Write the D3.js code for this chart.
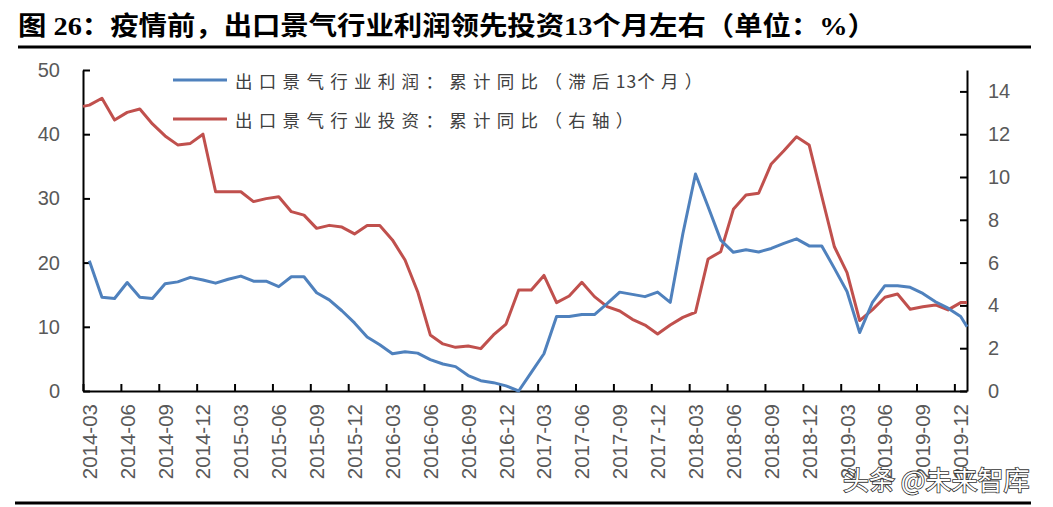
<!DOCTYPE html>
<html>
<head>
<meta charset="utf-8">
<script src="https://cdn.jsdelivr.net/npm/d3@7"></script>
<style>
  html, body { margin: 0; padding: 0; background: #fff; }
  svg { display: block; }
</style>
</head>
<body>
<svg id="chart" width="1053" height="507"></svg>
<script>
// ---------------- DATA ----------------
const titleText = "图 26：疫情前，出口景气行业利润领先投资13个月左右（单位：%）";
const legendProfit = "出口景气行业利润：累计同比（滞后13个月）";
const legendInvest = "出口景气行业投资：累计同比（右轴）";
const watermark = "头条 @未来智库";

// monthly categories 2014-03 .. 2019-12 (70 months); labelled every 3 months
const tickLabels = ["2014-03","2014-06","2014-09","2014-12","2015-03","2015-06","2015-09","2015-12",
  "2016-03","2016-06","2016-09","2016-12","2017-03","2017-06","2017-09","2017-12",
  "2018-03","2018-06","2018-09","2018-12","2019-03","2019-06","2019-09","2019-12"];
const nMonths = 70;

// 出口景气行业利润：累计同比（滞后13个月） — left axis
const profit = [20.3, 14.6, 14.4, 16.9, 14.6, 14.4, 16.7, 17.0, 17.7, 17.3,
  16.8, 17.4, 17.9, 17.1, 17.1, 16.25, 17.8, 17.8, 15.3, 14.2,
  12.5, 10.6, 8.4, 7.2, 5.8, 6.1, 5.9, 4.9, 4.2, 3.8,
  2.4, 1.6, 1.3, 0.8, 0.0, 2.9, 5.8, 11.6, 11.6, 11.9,
  11.9, 13.6, 15.4, 15.05, 14.7, 15.4, 13.8, 24.5, 33.8, 28.7,
  23.5, 21.6, 22.0, 21.65, 22.2, 23.0, 23.7, 22.6, 22.6, 19.1,
  15.5, 9.1, 13.75, 16.4, 16.4, 16.15, 15.2, 13.9, 12.9, 11.6];
const profitAxisEnd = 10.0;   // value where the line meets the right edge

// 出口景气行业投资：累计同比（右轴） — right axis
const invest = [13.36, 13.68, 12.66, 13.02, 13.18, 12.48, 11.92, 11.5, 11.57, 12.0,
  9.31, 9.31, 9.31, 8.85, 8.99, 9.08, 8.38, 8.22, 7.6, 7.74,
  7.66, 7.34, 7.73, 7.73, 7.06, 6.12, 4.64, 2.62, 2.2, 2.04,
  2.1, 1.98, 2.62, 3.13, 4.72, 4.72, 5.4, 4.13, 4.44, 5.08,
  4.41, 3.94, 3.74, 3.35, 3.08, 2.66, 3.08, 3.44, 3.68, 6.17,
  6.51, 8.49, 9.16, 9.24, 10.61, 11.23, 11.88, 11.5, 9.1, 6.74,
  5.53, 3.29, 3.79, 4.38, 4.53, 3.82, 3.94, 4.02, 3.79, 4.13];
const investAxisStart = 13.3;
const investAxisEnd = 4.13;

const leftTicks = [0, 10, 20, 30, 40, 50];
const rightTicks = [0, 2, 4, 6, 8, 10, 12, 14];

// ---------------- LAYOUT ----------------
const C_BLUE = "#4F81BD", C_RED = "#C0504D";
const plot = { left: 83, right: 967, top: 70, bottom: 391 };
const svg = d3.select("#chart");
svg.append("rect").attr("width", 1053).attr("height", 507).attr("fill", "#fff");

const x = d3.scaleLinear().domain([0, nMonths]).range([plot.left, plot.right]);
const yL = d3.scaleLinear().domain([0, 50]).range([plot.bottom, plot.top]);
const yR = d3.scaleLinear().domain([0, 15]).range([plot.bottom, plot.top]);

// title + rules
svg.append("text")
  .attr("x", 18).attr("y", 35)
  .attr("font-family", "'Liberation Serif', 'Noto Sans CJK SC', serif")
  .attr("font-weight", "bold").attr("font-size", 26).attr("fill", "#000")
  .attr("textLength", 858).attr("lengthAdjust", "spacingAndGlyphs")
  .text(titleText);
svg.append("line").attr("x1", 18).attr("x2", 1031).attr("y1", 47).attr("y2", 47)
  .attr("stroke", "#000").attr("stroke-width", 3);
svg.append("line").attr("x1", 15).attr("x2", 1031).attr("y1", 503).attr("y2", 503)
  .attr("stroke", "#000").attr("stroke-width", 3);

// axes
const tickFont = "'Liberation Sans', Arial, sans-serif";
function styleAxis(g) {
  g.selectAll("path.domain").attr("stroke", "#000").attr("stroke-width", 2);
  g.selectAll(".tick line").attr("stroke", "#000").attr("stroke-width", 2);
  g.selectAll(".tick text").attr("font-family", tickFont).attr("font-size", 20).attr("fill", "#595959");
}
const gx = svg.append("g").attr("transform", `translate(0,${plot.bottom})`)
  .call(d3.axisBottom(x).tickValues(d3.range(0, nMonths, 3)).tickSizeInner(-7).tickSizeOuter(0).tickFormat(""));
styleAxis(gx);

const gl = svg.append("g").attr("transform", `translate(${plot.left},0)`)
  .call(d3.axisLeft(yL).tickValues(leftTicks).tickSizeInner(-7).tickSizeOuter(0).tickPadding(23));
styleAxis(gl);
const gr = svg.append("g").attr("transform", `translate(${plot.right},0)`)
  .call(d3.axisRight(yR).tickValues(rightTicks).tickSizeInner(-7).tickSizeOuter(0).tickPadding(21));
styleAxis(gr);

// x tick labels (rotated)
svg.append("g").selectAll("text").data(tickLabels).join("text")
  .attr("transform", (d, i) => `translate(${x(i * 3 + 0.5)},404) rotate(-90)`)
  .attr("text-anchor", "end").attr("dominant-baseline", "central")
  .attr("font-family", tickFont).attr("font-size", 20.5).attr("fill", "#595959")
  .text(d => d);

// lines
const profitPts = profit.map((v, i) => [i + 0.5, v]).concat([[nMonths, profitAxisEnd]]);
const investPts = [[0, investAxisStart]].concat(invest.map((v, i) => [i + 0.5, v]), [[nMonths, investAxisEnd]]);

svg.append("path").datum(investPts)
  .attr("fill", "none").attr("stroke", C_RED).attr("stroke-width", 3).attr("stroke-linejoin", "round")
  .attr("d", d3.line().x(d => x(d[0])).y(d => yR(d[1])));
svg.append("path").datum(profitPts)
  .attr("fill", "none").attr("stroke", C_BLUE).attr("stroke-width", 3).attr("stroke-linejoin", "round")
  .attr("d", d3.line().x(d => x(d[0])).y(d => yL(d[1])));

// legend
const legend = [
  { label: legendProfit, color: C_BLUE, y: 80 },
  { label: legendInvest, color: C_RED, y: 119 }
];
const lg = svg.append("g");
lg.selectAll("line").data(legend).join("line")
  .attr("x1", 173).attr("x2", 227).attr("y1", d => d.y).attr("y2", d => d.y)
  .attr("stroke", d => d.color).attr("stroke-width", 3);
const lt = lg.selectAll("text").data(legend).join("text")
  .attr("x", 235).attr("y", d => d.y).attr("dominant-baseline", "central")
  .attr("font-family", "'Noto Sans CJK SC', sans-serif").attr("font-size", 17.5).attr("fill", "#404040");
lt.each(function(d) {
  const parts = d.label.split(/(\d+)/).filter(s => s.length);
  d3.select(this).selectAll("tspan").data(parts).join("tspan")
    .attr("letter-spacing", p => /^\d+$/.test(p) ? 1 : 6.3)
    .text(p => p);
});

// watermark
svg.append("text").attr("x", 843).attr("y", 490)
  .attr("font-family", "'Noto Sans CJK SC', sans-serif").attr("font-size", 26)
  .attr("fill", "#fff").attr("stroke", "#333").attr("stroke-width", 1.6).attr("paint-order", "stroke")
  .text(watermark);
</script>
</body>
</html>
